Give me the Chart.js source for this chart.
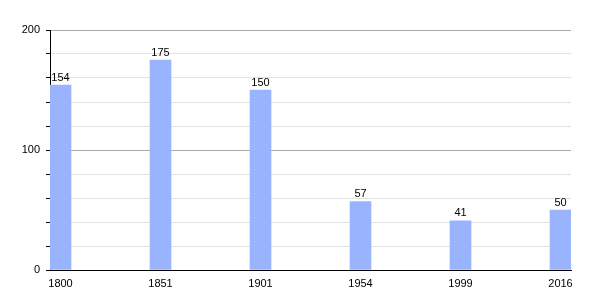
<!DOCTYPE html>
<html>
<head>
<meta charset="utf-8">
<script src="https://cdn.jsdelivr.net/npm/chart.js@4"></script>
<style>
  html, body { margin: 0; padding: 0; background: #fff; }
</style>
</head>
<body>
<canvas id="popChart" width="600" height="300"></canvas>
<script>
const years = ["1800", "1851", "1901", "1954", "1999", "2016"];
const population = [154, 175, 150, 57, 41, 50];
const yTicks = [0, 100, 200];

// labels above each bar
const valueLabels = {
    id: "valueLabels",
    afterDatasetsDraw(chart) {
        const ctx = chart.ctx;
        ctx.save();
        ctx.font = "11px 'Liberation Sans', Arial, sans-serif";
        ctx.fillStyle = "#000";
        ctx.textAlign = "center";
        ctx.textBaseline = "bottom";
        chart.getDatasetMeta(0).data.forEach((bar, i) => {
            ctx.fillText(String(population[i]), bar.x, bar.y - 2);
        });
        ctx.restore();
    },
};

const popConfig = {
    type: "bar",
    data: {
        datasets: [
            {
                data: population.map((v, i) => ({ x: i, y: v })),
                backgroundColor: "#99b3ff",
                barThickness: 21,
            },
        ],
    },
    options: {
        responsive: false,
        animation: false,
        layout: { padding: { left: 0, right: 29, top: 30, bottom: 0 } },
        plugins: {
            legend: { display: false },
            tooltip: { enabled: false },
        },
        scales: {
            x: {
                type: "linear",
                offset: false,
                min: -0.105,
                max: 5.105,
                afterBuildTicks: (s) => { s.ticks = years.map((_, i) => ({ value: i })); },
                afterFit: (s) => { s.height = 30; },
                grid: { display: false, drawTicks: false },
                border: { color: "#000", width: 1 },
                ticks: {
                    color: "#000",
                    padding: 7,
                    maxRotation: 0,
                    autoSkip: false,
                    font: { family: "'Liberation Sans', Arial, sans-serif", size: 11 },
                    callback: (v) => years[v],
                },
            },
            y: {
                min: 0,
                max: 200,
                afterFit: (s) => { s.width = 50; },
                ticks: {
                    stepSize: 20,
                    color: "#000",
                    padding: 6,
                    font: { family: "'Liberation Sans', Arial, sans-serif", size: 11 },
                    callback: (v) => (yTicks.includes(v) ? v : ""),
                },
                grid: {
                    color: (c) => (c.tick && c.tick.value % 100 === 0 ? "#aaaaaa" : "#e2e2e2"),
                    tickColor: "#000",
                    tickLength: 4,
                },
                border: { color: "#000", width: 1 },
            },
        },
    },
    plugins: [valueLabels],
};

const popChart = new Chart(document.getElementById("popChart"), popConfig);
</script>
</body>
</html>
